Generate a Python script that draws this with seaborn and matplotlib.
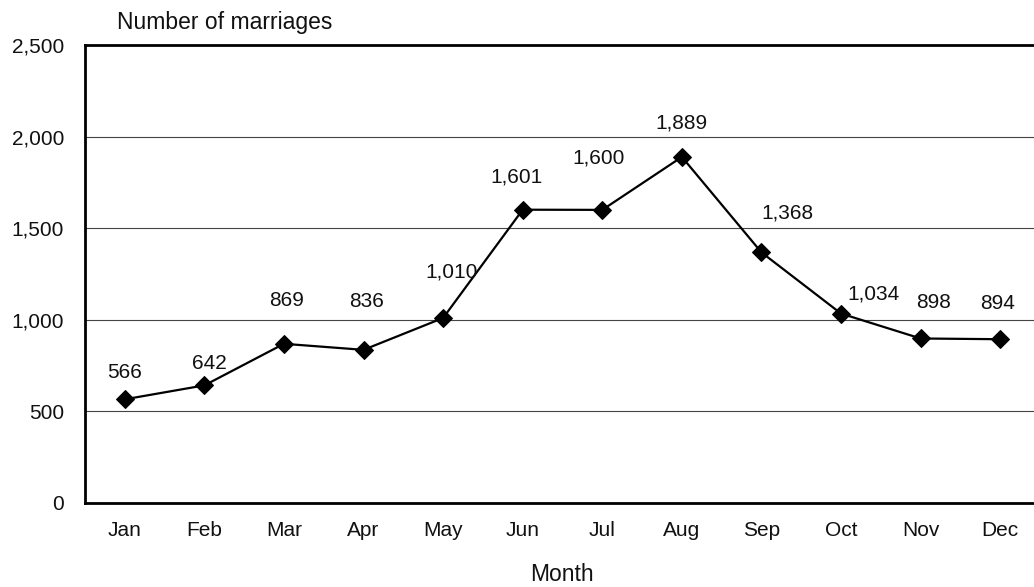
import numpy as np
import pandas as pd
import matplotlib
matplotlib.use("Agg")
import matplotlib.pyplot as plt
from matplotlib.ticker import FuncFormatter, MultipleLocator
import seaborn as sns

# --- Data ---
months = ["Jan", "Feb", "Mar", "Apr", "May", "Jun",
          "Jul", "Aug", "Sep", "Oct", "Nov", "Dec"]
marriages = [566, 642, 869, 836, 1010, 1601, 1600, 1889, 1368, 1034, 898, 894]

# label offsets in pixels (dx, dy) from each point
label_dx = [0, 5, 3, 3, 8, -6, -4, 0, 26, 32, 13, -3]
label_dy = [27, 22, 43, 48, 46, 33, 52, 34, 39, 20, 36, 36]

df = pd.DataFrame({"month": months, "count": marriages, "pos": np.arange(len(months))})

# --- Style ---
sns.set_style("white")
plt.rcParams["font.family"] = ["Liberation Sans", "DejaVu Sans"]
FS = 15
FS_LABEL = 16.5

fig = plt.figure(figsize=(10.34, 5.87), dpi=100)
ax = fig.add_axes([85 / 1034, 84 / 587, 955 / 1034, 458 / 587])

sns.lineplot(data=df, x="pos", y="count", ax=ax, color="black", linewidth=1.6,
             marker="D", markersize=9, markeredgecolor="black", markerfacecolor="black")

for x, y, dx, dy in zip(df["pos"], df["count"], label_dx, label_dy):
    ax.annotate(f"{y:,}", (x, y), xytext=(dx, dy), textcoords="offset pixels",
                ha="center", va="center", fontsize=FS, color="#111111")

ax.set_xlim(-0.5, 11.5)
ax.set_ylim(0, 2500)
ax.set_xticks(df["pos"])
ax.set_xticklabels(months)
ax.yaxis.set_major_locator(MultipleLocator(500))
ax.yaxis.set_major_formatter(FuncFormatter(lambda v, p: f"{int(v):,}"))
ax.tick_params(axis="both", length=0, labelsize=FS, colors="#111111")
ax.tick_params(axis="y", pad=15)
ax.tick_params(axis="x", pad=13)

ax.grid(axis="y", color="#444444", linewidth=0.8)
ax.set_axisbelow(True)
for side in ["left", "top", "bottom"]:
    ax.spines[side].set_color("black")
    ax.spines[side].set_linewidth(2)
ax.spines["right"].set_visible(False)

ax.set_xlabel("")
ax.set_ylabel("")
fig.text(117 / 1034, 1 - 22 / 587, "Number of marriages", ha="left", va="center",
         fontsize=FS_LABEL, color="#111111")
fig.text(562 / 1034, 1 / 587, "Month", ha="center", va="bottom",
         fontsize=FS_LABEL, color="#111111")

fig.savefig("out.png", dpi=100)
